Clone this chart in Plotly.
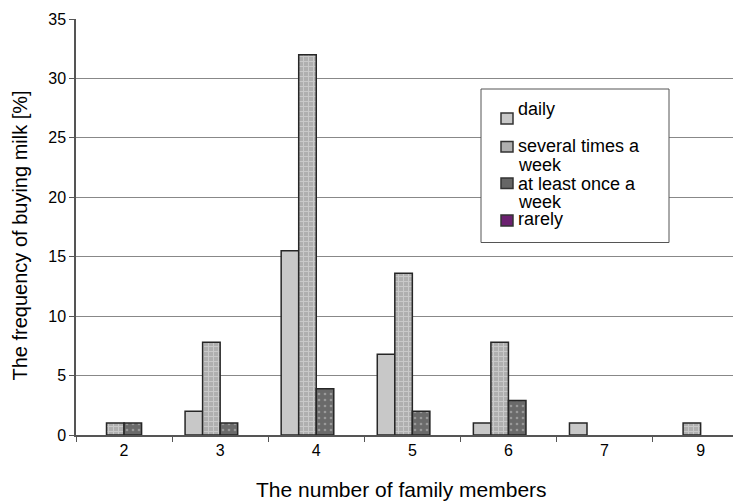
import plotly.graph_objects as go

members = ["2", "3", "4", "5", "6", "7", "9"]
daily = [0, 2, 15.5, 6.8, 1, 1, 0]
several = [1, 7.8, 32, 13.6, 7.8, 0, 1]
at_least = [1, 1, 3.9, 2, 2.9, 0, 0]
rarely = [0, 0, 0, 0, 0, 0, 0]

legend_labels = [["daily"], ["several times a", "week"], ["at least once a", "week"], ["rarely"]]
x_title = "The number of family members"
y_title = "The frequency of buying milk [%]"

# page body adds an 8px margin, so the figure is drawn 8px smaller and positions shifted
OFF = 8
W, H = 741 - OFF, 501 - OFF
L, R, T, B = 76 - OFF, 0, 19 - OFF, 66
PW, PH = W - L - R, H - T - B

def px(x):
    return (x - OFF - L) / PW

def py(y):
    return (H + OFF - B - y) / PH

def hide_zero(vals):
    # zero-height bars are not drawn in the reference
    return [v if v else None for v in vals]

edge = dict(color="#262626", width=1.5)
fig = go.Figure()
fig.add_bar(x=members, y=hide_zero(daily), name="daily",
            marker=dict(color="#c8c8c8", line=edge))
fig.add_bar(x=members, y=hide_zero(several), name="several times a week",
            marker=dict(color="#afafaf", line=edge,
                        pattern=dict(shape="+", fgcolor="#e4e4e4", bgcolor="#afafaf",
                                     size=5, solidity=0.35)))
fig.add_bar(x=members, y=hide_zero(at_least), name="at least once a week",
            marker=dict(color="#6a6a6a", line=edge,
                        pattern=dict(shape=".", fgcolor="#c8c8c8", bgcolor="#6a6a6a",
                                     size=6, solidity=0.15)))
fig.add_bar(x=members, y=hide_zero(rarely), name="rarely",
            marker=dict(color="#6b2070", line=edge))

shapes = []
annotations = []
# legend box
shapes.append(dict(type="rect", xref="paper", yref="paper",
                   x0=px(481), x1=px(669), y0=py(89), y1=py(242.5),
                   line=dict(color="#555555", width=1), fillcolor="white", layer="above"))
sw_colors = ["#c8c8c8", "#afafaf", "#666666", "#6b2070"]
sw_y = [(113, 124), (141.5, 152), (178, 188.5), (215, 226)]
line_y = [[109], [146, 165], [183.5, 202], [219]]
for i in range(4):
    shapes.append(dict(type="rect", xref="paper", yref="paper",
                       x0=px(501), x1=px(513), y0=py(sw_y[i][0]), y1=py(sw_y[i][1]),
                       line=dict(color="#333333", width=1.5), fillcolor=sw_colors[i],
                       layer="above"))
    for txt, yy in zip(legend_labels[i], line_y[i]):
        annotations.append(dict(text=txt, xref="paper", yref="paper",
                                x=px(516), y=py(yy), xanchor="left", yanchor="middle",
                                showarrow=False, font=dict(size=18, color="black")))

annotations.append(dict(text=x_title, xref="paper", yref="paper",
                        x=px(401), y=py(489), xanchor="center", yanchor="middle",
                        showarrow=False, font=dict(size=21, color="black")))
annotations.append(dict(text=y_title, xref="paper", yref="paper", textangle=-90,
                        x=px(19.5), y=py(236), xanchor="center", yanchor="middle",
                        showarrow=False, font=dict(size=20, color="black")))

fig.update_layout(
    width=W, height=H,
    margin=dict(l=L, r=R, t=T, b=B, autoexpand=False),
    paper_bgcolor="white", plot_bgcolor="white",
    barmode="group", bargap=0.27, bargroupgap=0,
    showlegend=False,
    font=dict(family="Liberation Sans, Arial, sans-serif", color="black"),
    shapes=shapes, annotations=annotations,
    xaxis=dict(type="category", range=[-0.5, 6.42], automargin=False,
               tickson="boundaries", ticks="outside", ticklen=5, tickcolor="#555555",
               showline=True, linecolor="#555555", linewidth=1.5,
               showgrid=False, tickfont=dict(size=16)),
    yaxis=dict(range=[0, 35], dtick=5, ticks="outside", ticklen=5, tickcolor="#555555",
               showline=True, linecolor="#555555", linewidth=1.5, automargin=False,
               showgrid=True, gridcolor="#888888", gridwidth=1,
               zeroline=False, tickfont=dict(size=16)),
)

fig.write_html("out.html")
